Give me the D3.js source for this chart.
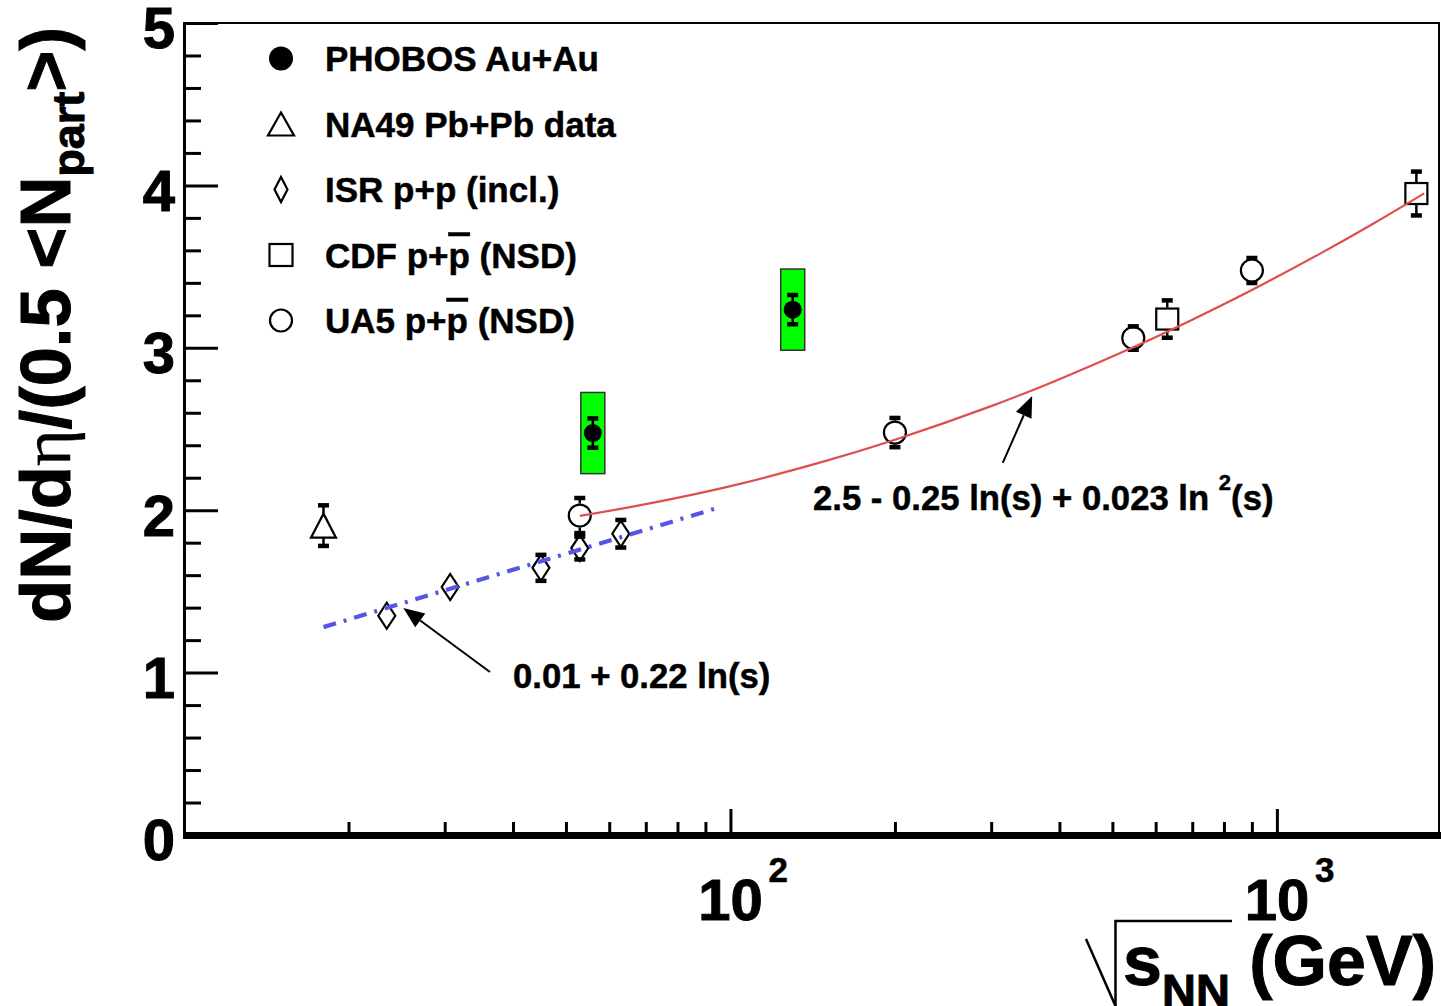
<!DOCTYPE html>
<html><head><meta charset="utf-8">
<script src="https://cdn.jsdelivr.net/npm/d3@7"></script>
<style>
html,body{margin:0;padding:0;background:#fff}
svg{display:block}
text{font-family:"Liberation Sans",Arial,Helvetica,sans-serif;font-weight:bold;fill:#000;stroke:#000;stroke-width:0.5px;paint-order:stroke}
text.big{stroke-width:1px}
</style>
</head><body>
<svg id="c" width="1441" height="1006"></svg>
<script>
// ---------------- DATA ----------------
// PHOBOS Au+Au
const phobosX   = [56, 130];
const phobosY   = [2.475, 3.235];
const phobosErr = [0.09, 0.09];
const phobosSys = [0.25, 0.25];
// NA49 Pb+Pb
const na49X   = [18];
const na49Y   = [1.905];
const na49Err = [0.125];
// ISR p+p (incl.)
const isrX   = [23.5, 30.7, 45, 53, 63];
const isrY   = [1.35, 1.527, 1.645, 1.767, 1.855];
const isrErr = [0.04, 0.04, 0.08, 0.07, 0.085];
// CDF p+pbar (NSD)
const cdfX   = [630, 1800];
const cdfY   = [3.177, 3.95];
const cdfErr = [0.115, 0.135];
// UA5 p+pbar (NSD)
const ua5X   = [53, 200, 546, 900];
const ua5Y   = [1.967, 2.478, 3.06, 3.476];
const ua5Err = [0.108, 0.09, 0.072, 0.077];
// fit curves
const redX = [53, 70, 100, 150, 200, 300, 400, 546, 700, 900, 1200, 1500, 1860];
const redY = [1.965, 2.037, 2.148, 2.305, 2.434, 2.641, 2.807, 3.003, 3.173, 3.356, 3.580, 3.764, 3.951];
const blueX = [18, 96];
const blueY = [1.28, 2.02];
// axes
const xDomain = [10, 1980];
const yDomain = [0, 5];
const xMajorTicks = [100, 1000];
const xMinorTicks = [20, 30, 40, 50, 60, 70, 80, 90, 200, 300, 400, 500, 600, 700, 800, 900];
const yMajorTicks = [0, 1, 2, 3, 4, 5];
const yMinorTicks = [0.2,0.4,0.6,0.8,1.2,1.4,1.6,1.8,2.2,2.4,2.6,2.8,3.2,3.4,3.6,3.8,4.2,4.4,4.6,4.8];
// legend
const legendLabels  = ["PHOBOS Au+Au", "NA49 Pb+Pb data", "ISR p+p (incl.)", "CDF p+p\u0304 (NSD)", "UA5 p+p\u0304 (NSD)"];
const legendMarkers = ["fcircle", "triangle", "diamond", "square", "ocircle"];
// annotations [x, y] in data coordinates
const fit1Label = "0.01 + 0.22 ln(s)";
const fit1Text  = [40, 0.905];
const fit1Arrow = [[36.3, 1.004], [25.2, 1.398]];
const fit2Label = ["2.5 - 0.25 ln(s) + 0.023 ln ", "2", "(s)"];
const fit2Text  = [141.6, 2.0];
const fit2Arrow = [[315, 2.291], [356.6, 2.703]];

// ---------------- CHART ----------------
const svg = d3.select("#c");
const x = d3.scaleLog().domain(xDomain).range([184, 1439]);
const y = d3.scaleLinear().domain(yDomain).range([835, 23]);

const msize = {
  fcircle:  {w:18, h:18},
  ocircle:  {w:24, h:24},
  triangle: {w:25, h:24},
  diamond:  {w:17, h:26},
  square:   {w:24, h:23}
};
const lsize = {
  fcircle:  {w:24, h:24},
  ocircle:  {w:24, h:24},
  triangle: {w:26, h:23},
  diamond:  {w:13, h:25},
  square:   {w:25, h:24}
};

function drawMarker(g, type, cx, cy, s) {
  const w = s.w, h = s.h;
  if (type === "fcircle") {
    g.append("circle").attr("cx", cx).attr("cy", cy).attr("r", w/2).attr("fill", "#000");
  } else if (type === "ocircle") {
    g.append("circle").attr("cx", cx).attr("cy", cy).attr("r", w/2 - 1)
      .attr("fill", "none").attr("stroke", "#000").attr("stroke-width", 2.2);
  } else if (type === "triangle") {
    g.append("path").attr("d", `M${cx},${cy-h/2}L${cx+w/2},${cy+h/2}L${cx-w/2},${cy+h/2}Z`)
      .attr("fill", "none").attr("stroke", "#000").attr("stroke-width", 2.2).attr("stroke-linejoin", "miter");
  } else if (type === "diamond") {
    g.append("path").attr("d", `M${cx},${cy-h/2}L${cx+w/2},${cy}L${cx},${cy+h/2}L${cx-w/2},${cy}Z`)
      .attr("fill", "none").attr("stroke", "#000").attr("stroke-width", 2.2);
  } else if (type === "square") {
    g.append("rect").attr("x", cx-w/2+1).attr("y", cy-h/2+1).attr("width", w-2).attr("height", h-2)
      .attr("fill", "none").attr("stroke", "#000").attr("stroke-width", 2.2);
  }
}

function drawErr(g, cx, cy, e, halfH, full) {
  const yt = y(cy + e), yb = y(cy - e), yc = y(cy);
  if (yc - yt <= halfH - 2 && !full) return;
  const capW = 11, capH = 4.5;
  if (full) {
    g.append("line").attr("x1", cx).attr("x2", cx).attr("y1", yt).attr("y2", yb)
      .attr("stroke", "#000").attr("stroke-width", 2.5);
  } else if (yc - yt > halfH) {
    g.append("line").attr("x1", cx).attr("x2", cx).attr("y1", yt).attr("y2", yc - halfH)
      .attr("stroke", "#000").attr("stroke-width", 2.5);
    g.append("line").attr("x1", cx).attr("x2", cx).attr("y1", yc + halfH).attr("y2", yb)
      .attr("stroke", "#000").attr("stroke-width", 2.5);
  }
  g.append("rect").attr("x", cx - capW/2).attr("y", yt - capH/2).attr("width", capW).attr("height", capH).attr("fill", "#000");
  g.append("rect").attr("x", cx - capW/2).attr("y", yb - capH/2).attr("width", capW).attr("height", capH).attr("fill", "#000");
}

// ---- axes ----
const fontTick = 58;
const gy = svg.append("g").attr("transform", "translate(184,0)");
gy.call(d3.axisLeft(y).tickValues(yMinorTicks).tickSizeInner(-17).tickSizeOuter(0).tickFormat(""));
gy.call(g => g.select(".domain").remove());
const gy2 = svg.append("g").attr("transform", "translate(184,0)");
gy2.call(d3.axisLeft(y).tickValues(yMajorTicks).tickSizeInner(-34).tickSizeOuter(0).tickPadding(9).tickFormat(d3.format("d")));
gy2.call(g => g.select(".domain").remove());
svg.selectAll("g.tick line").attr("stroke", "#000").attr("stroke-width", 3);
gy2.selectAll("text").attr("class", "big").attr("font-size", fontTick).attr("font-family", null).attr("fill", "#000")
  .attr("dy", "0.43em").style("font-weight", "bold");

const gx = svg.append("g").attr("transform", "translate(0,835)");
gx.call(d3.axisBottom(x).tickValues(xMinorTicks).tickSizeInner(-13).tickSizeOuter(0).tickFormat(""));
gx.call(g => g.select(".domain").remove());
const gx2 = svg.append("g").attr("transform", "translate(0,835)");
gx2.call(d3.axisBottom(x).tickValues(xMajorTicks).tickSizeInner(-26).tickSizeOuter(0).tickFormat(""));
gx2.call(g => g.select(".domain").remove());
gx.selectAll("line").attr("stroke", "#000").attr("stroke-width", 3);
gx2.selectAll("line").attr("stroke", "#000").attr("stroke-width", 3);

xMajorTicks.forEach(v => {
  const px = x(v);
  svg.append("text").attr("class", "big").attr("x", px).attr("y", 920).attr("text-anchor", "middle")
    .attr("font-size", fontTick).text("10");
  svg.append("text").attr("x", px + 38).attr("y", 882).attr("text-anchor", "start")
    .attr("font-size", 35).text(String(Math.round(Math.log10(v))));
});

// frame
svg.append("line").attr("x1", 184).attr("x2", 1440).attr("y1", 23).attr("y2", 23).attr("stroke", "#000").attr("stroke-width", 2);
svg.append("line").attr("x1", 1439).attr("x2", 1439).attr("y1", 22).attr("y2", 835).attr("stroke", "#000").attr("stroke-width", 2);
svg.append("line").attr("x1", 184.5).attr("x2", 184.5).attr("y1", 22).attr("y2", 838).attr("stroke", "#000").attr("stroke-width", 3);
svg.append("line").attr("x1", 183).attr("x2", 1441).attr("y1", 835.5).attr("y2", 835.5).attr("stroke", "#000").attr("stroke-width", 7);

// ---- data ----
const gd = svg.append("g");
// PHOBOS systematic boxes
phobosX.forEach((v, i) => {
  gd.append("rect").attr("x", x(v) - 12).attr("y", y(phobosY[i] + phobosSys[i]))
    .attr("width", 24).attr("height", y(phobosY[i] - phobosSys[i]) - y(phobosY[i] + phobosSys[i]))
    .attr("fill", "#00ff00").attr("stroke", "#333").attr("stroke-width", 1.5);
});
function series(xs, ys, es, type, full) {
  xs.forEach((v, i) => {
    drawErr(gd, x(v), ys[i], es[i], msize[type].h/2, full);
    drawMarker(gd, type, x(v), y(ys[i]), msize[type]);
  });
}
series(phobosX, phobosY, phobosErr, "fcircle", true);
series(na49X, na49Y, na49Err, "triangle", false);
series(isrX, isrY, isrErr, "diamond", false);
series(cdfX, cdfY, cdfErr, "square", false);
series(ua5X, ua5Y, ua5Err, "ocircle", false);

// ---- fits ----
const line = d3.line().x(d => x(d[0])).y(d => y(d[1]));
svg.append("path").datum(redX.map((v, i) => [v, redY[i]]))
  .attr("d", line.curve(d3.curveCatmullRom)).attr("fill", "none").attr("stroke", "#df4e4e").attr("stroke-width", 2.2);
svg.append("path").datum(blueX.map((v, i) => [v, blueY[i]]))
  .attr("d", d3.line().x(d => x(d[0])).y(d => y(d[1])))
  .attr("fill", "none").attr("stroke", "#5656e2").attr("stroke-width", 4.2).attr("stroke-dasharray", "13,8,3,8");

// ---- annotations ----
function arrow(a) {
  const x1 = x(a[0][0]), y1 = y(a[0][1]), x2 = x(a[1][0]), y2 = y(a[1][1]);
  const ang = Math.atan2(y2 - y1, x2 - x1);
  const L = 21, Wd = 8.5;
  const bx = x2 - L * Math.cos(ang), by = y2 - L * Math.sin(ang);
  svg.append("line").attr("x1", x1).attr("y1", y1).attr("x2", bx).attr("y2", by)
    .attr("stroke", "#000").attr("stroke-width", 2);
  const px = -Math.sin(ang), py = Math.cos(ang);
  svg.append("path").attr("d", `M${x2},${y2}L${bx + px*Wd},${by + py*Wd}L${bx - px*Wd},${by - py*Wd}Z`).attr("fill", "#000");
}
arrow(fit1Arrow);
arrow(fit2Arrow);
svg.append("text").attr("x", x(fit1Text[0])).attr("y", y(fit1Text[1])).attr("font-size", 34.7).text(fit1Label);
const t2 = svg.append("text").attr("x", x(fit2Text[0])).attr("y", y(fit2Text[1])).attr("font-size", 34.7);
t2.append("tspan").text(fit2Label[0]);
t2.append("tspan").attr("font-size", 22).attr("dy", -20).text(fit2Label[1]);
t2.append("tspan").attr("dy", 20).text(fit2Label[2]);

// ---- legend ----
legendLabels.forEach((lab, i) => {
  const cy = 58.5 + 65.5 * i;
  drawMarker(svg, legendMarkers[i], 281, cy, lsize[legendMarkers[i]]);
  const t = svg.append("text").attr("x", 325).attr("y", cy + 12.5).attr("font-size", 35);
  const parts = lab.split("p\u0304");
  parts.forEach((p, k) => {
    if (k > 0) t.append("tspan").style("text-decoration", "overline").text("p");
    t.append("tspan").text(p);
  });
});

// ---- axis titles ----
const yt = svg.append("text").attr("class", "big").attr("transform", "translate(70,27) rotate(-90)")
  .attr("text-anchor", "end").attr("font-size", 70.5);
yt.append("tspan").text("dN/d");
yt.append("tspan").style("font-family", "'Liberation Serif','DejaVu Serif',serif").style("font-weight", "normal").style("stroke-width", "0.3px").text("\u03B7");
yt.append("tspan").text("/(0.5 <N");
yt.append("tspan").attr("font-size", 45).attr("dy", 14).text("part");
yt.append("tspan").attr("dy", -14).text(">)");

// x title with radical sign
svg.append("path").attr("d", "M1086,939 L1115.5,1006 L1115.5,921 L1232,921")
  .attr("fill", "none").attr("stroke", "#000").attr("stroke-width", 2.5);
const xt = svg.append("text").attr("class", "big").attr("x", 1123).attr("y", 985).attr("font-size", 70);
xt.append("tspan").text("s");
xt.append("tspan").attr("font-size", 47).attr("dy", 22).text("NN");
xt.append("tspan").attr("dy", -22).text(" (GeV)");
</script>
</body></html>
